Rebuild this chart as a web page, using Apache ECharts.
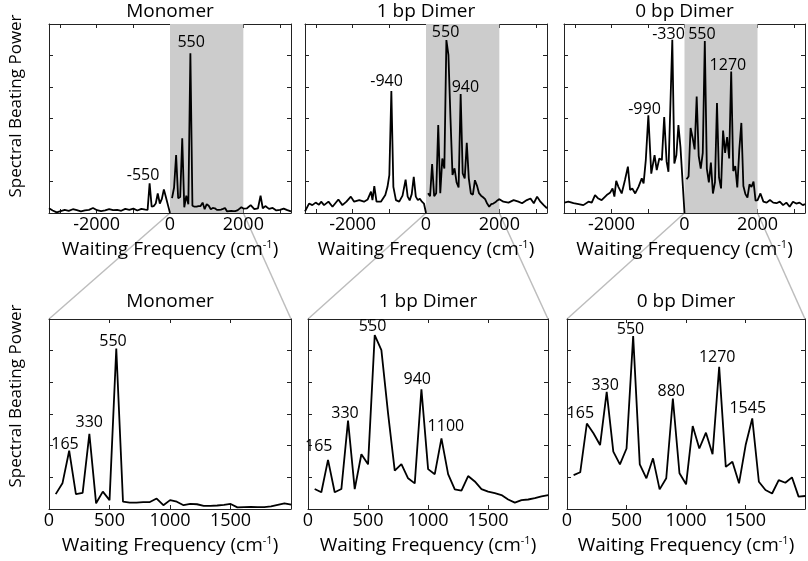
<!DOCTYPE html>
<html><head><meta charset="utf-8">
<script src="https://cdn.jsdelivr.net/npm/echarts@6/dist/echarts.min.js"></script>
<style>html,body{margin:0;padding:0;background:#fff}#c{width:808px;height:561px}</style>
</head><body><div id="c"></div>
<script>
// ---------- data ----------
const panelTitles = ['Monomer', '1 bp Dimer', '0 bp Dimer'];
const topTickLabels = [-2000, 0, 2000];
const botTickLabels = [0, 500, 1000, 1500];

// positive waiting frequencies (cm-1), shared by all zoomed spectra
const freqs = [55.6,111.2,166.8,222.4,278,333.6,389.2,444.8,500.4,556,611.6,667.2,722.8,778.4,834,889.6,945.2,1000.8,1056.4,1112,1167.6,1223.2,1278.8,1334.4,1390,1445.6,1501.2,1556.8,1612.4,1668,1723.6,1779.2,1834.8,1890.4,1946,2001.6];

const monoPos = [0.47,0.81,1.84,0.47,0.51,2.37,0.18,0.55,0.28,5.07,0.23,0.2,0.2,0.22,0.22,0.33,0.12,0.28,0.23,0.12,0.16,0.15,0.1,0.1,0.11,0.13,0.16,0.05,0.06,0.07,0.06,0.06,0.08,0.13,0.18,0.14];
const dimer1Pos = [0.63,0.53,1.55,0.53,0.63,2.79,0.63,1.73,1.41,5.49,5.02,3.02,1.21,1.42,0.97,0.81,3.78,1.26,1.10,2.23,1.10,0.62,0.58,1.04,0.87,0.63,0.55,0.5,0.44,0.3,0.2,0.28,0.3,0.34,0.4,0.44];
const dimer0Pos = [1.07,1.16,2.70,2.39,2.02,3.70,1.81,1.41,1.91,5.46,1.41,0.97,1.60,0.62,0.97,3.49,1.13,0.78,2.62,1.91,2.41,1.73,4.49,1.33,1.49,0.81,2.02,2.86,0.86,0.6,0.49,0.91,0.83,1.0,0.39,0.41];

// negative-frequency side of the full spectra
const monoNegX = [-3300,-3200,-3090,-2980,-2870,-2760,-2650,-2540,-2430,-2320,-2210,-2100,-1990,-1880,-1770,-1660,-1550,-1440,-1330,-1220,-1110,-1000,-890,-780,-670,-611,-556,-500,-445,-389,-334,-278,-222,-167,-111,-56,0];
const monoNegY = [0.15,0.08,0.02,0.06,0.1,0.07,0.12,0.09,0.05,0.08,0.1,0.16,0.09,0.06,0.08,0.12,0.09,0.1,0.07,0.13,0.1,0.14,0.08,0.13,0.11,0.1,0.94,0.2,0.22,0.3,0.62,0.3,0.45,0.75,0.5,0.25,0.0];
const dimer1NegX = [-3300,-3190,-3100,-3010,-2920,-2860,-2780,-2660,-2550,-2390,-2280,-2170,-2050,-1960,-1820,-1690,-1590,-1500,-1460,-1410,-1350,-1230,-1110,-1050,-1000,-945,-890,-820,-730,-640,-556,-500,-445,-389,-334,-278,-222,-167,-111,-56,0];
const dimer1NegY = [0.05,0.3,0.25,0.33,0.26,0.36,0.25,0.36,0.2,0.43,0.25,0.36,0.52,0.36,0.41,0.36,0.43,0.68,0.41,0.85,0.36,0.36,0.57,0.83,1.2,3.87,0.83,0.41,0.36,0.55,1.06,0.52,0.4,0.6,1.15,0.52,0.41,0.45,0.36,0.3,0.0];
const dimer0NegX = [-3290,-3180,-3040,-2900,-2770,-2630,-2540,-2450,-2360,-2270,-2130,-2040,-1970,-1920,-1870,-1810,-1720,-1630,-1550,-1490,-1430,-1350,-1260,-1170,-1120,-1060,-990,-910,-820,-760,-690,-620,-556,-490,-440,-334,-278,-222,-167,-111,0];
const dimer0NegY = [0.33,0.36,0.31,0.28,0.25,0.36,0.33,0.57,0.46,0.41,0.57,0.64,0.78,0.52,1.02,0.83,0.62,1.05,1.47,0.73,0.78,0.62,0.83,1.1,0.94,1.68,3.1,1.25,1.84,1.36,1.73,1.68,3.05,1.63,1.31,5.5,1.57,1.84,2.79,2.1,0.0];

// beyond 2000 cm-1 on the full spectra
const monoExtX = [2100,2200,2300,2400,2470,2530,2600,2700,2800,2900,3000,3100,3200,3300];
const monoExtY = [0.15,0.25,0.12,0.15,0.55,0.15,0.22,0.13,0.16,0.08,0.1,0.14,0.09,0.05];
const dimer1ExtX = [2110,2250,2390,2520,2620,2750,2850,2940,3030,3120,3210,3300];
const dimer1ExtY = [0.36,0.33,0.41,0.36,0.31,0.41,0.46,0.31,0.52,0.36,0.25,0.15];
const dimer0ExtX = [2080,2160,2250,2340,2430,2520,2610,2700,2790,2880,2970,3060,3150,3240,3300];
const dimer0ExtY = [0.62,0.36,0.33,0.41,0.33,0.31,0.36,0.25,0.33,0.2,0.36,0.3,0.33,0.25,0.28];

// peak annotations: [text, x, y] (data coordinates of label centre)
const annTop = [
  [['550', 577, 5.42], ['-550', -733, 1.2]],
  [['-940', -1074, 4.18], ['550', 534, 5.74], ['940', 1074, 4.0]],
  [['-330', -438, 5.66], ['550', 476, 5.66], ['1270', 1189, 4.68], ['-990', -1096, 3.28]]
];
const annBot = [
  [['165', 132, 2.05], ['330', 333, 2.72], ['550', 529, 5.3]],
  [['165', 90, 1.97], ['330', 308, 3.02], ['550', 538, 5.75], ['940', 910, 4.09], ['1100', 1149, 2.6]],
  [['165', 113, 3.02], ['330', 321, 3.91], ['550', 534, 5.67], ['880', 876, 3.70], ['1270', 1262, 4.79], ['1545', 1519, 3.18]]
];

// ---------- build ----------
const zip = (xs, ys) => xs.map((x, i) => [x, ys[i]]);
const posSets = [monoPos, dimer1Pos, dimer0Pos];
const negSets = [[monoNegX, monoNegY], [dimer1NegX, dimer1NegY], [dimer0NegX, dimer0NegY]];
const extSets = [[monoExtX, monoExtY], [dimer1ExtX, dimer1ExtY], [dimer0ExtX, dimer0ExtY]];

const FONT = 'Open Sans';
const INK = '#000';
const FRAME = '#222';
const grids = [
  {left: 49, top: 24, width: 242, height: 189},
  {left: 305, top: 24, width: 242, height: 189},
  {left: 564, top: 24, width: 241, height: 189},
  {left: 49, top: 319, width: 242, height: 190},
  {left: 308, top: 319, width: 240, height: 190},
  {left: 567, top: 319, width: 238, height: 190}
];

const lineAx = {show: true, onZero: false, lineStyle: {color: FRAME, width: 1}};
const tickAx = {show: true, inside: true, length: 4, lineStyle: {color: FRAME, width: 1}};
const xName = 'Waiting Frequency (cm{s|-1})';
const nameStyle = {fontSize: 19, fontFamily: FONT, color: INK, lineHeight: 22,
  rich: {s: {fontSize: 11, fontFamily: FONT, color: INK, verticalAlign: 'top', lineHeight: 22}}};

const xAxis = [], yAxis = [], series = [];
grids.forEach((g, i) => {
  const isTop = i < 3;
  const base = isTop ? {min: -3300, max: 3300, splitNumber: 6} : {min: 0, max: 2000, interval: 500};
  const labels = isTop ? topTickLabels : botTickLabels;
  xAxis.push(Object.assign({
    type: 'value', gridIndex: i, position: 'bottom',
    axisLine: lineAx, axisTick: tickAx, splitLine: {show: false},
    axisLabel: {show: true, margin: 3, fontSize: 18, fontFamily: FONT, color: INK,
      formatter: v => labels.includes(v) ? String(v) : ''},
    name: xName, nameLocation: 'middle', nameGap: 26, nameTextStyle: nameStyle
  }, base));
  xAxis.push(Object.assign({
    type: 'value', gridIndex: i, position: 'top',
    axisLine: lineAx, axisTick: tickAx, splitLine: {show: false}, axisLabel: {show: false}
  }, base));
  ['left', 'right'].forEach(pos => yAxis.push({
    type: 'value', gridIndex: i, position: pos, min: 0, max: 6, interval: 1,
    axisLine: lineAx, axisTick: tickAx, splitLine: {show: false}, axisLabel: {show: false}
  }));
});

const lineStyle = {color: INK, width: 1.8};
for (let p = 0; p < 3; p++) {
  // full spectrum (top row)
  series.push({
    type: 'line', xAxisIndex: 2 * p, yAxisIndex: 2 * p, z: 1,
    data: zip(negSets[p][0], negSets[p][1]), showSymbol: false, lineStyle, animation: false,
    markArea: {silent: true, itemStyle: {color: '#cccccc'}, data: [[{xAxis: 0}, {xAxis: 2000}]]}
  });
  series.push({
    type: 'line', xAxisIndex: 2 * p, yAxisIndex: 2 * p, z: 3,
    data: zip(freqs, posSets[p]).concat(zip(extSets[p][0], extSets[p][1])),
    showSymbol: false, lineStyle, animation: false
  });
  // zoomed spectrum (bottom row)
  series.push({
    type: 'line', xAxisIndex: 2 * (p + 3), yAxisIndex: 2 * (p + 3), z: 3,
    data: zip(freqs, posSets[p]), showSymbol: false, lineStyle, animation: false
  });
  // annotations
  [[annTop[p], p], [annBot[p], p + 3]].forEach(([ann, gi]) => series.push({
    type: 'scatter', xAxisIndex: 2 * gi, yAxisIndex: 2 * gi, z: 5, silent: true,
    symbolSize: 2, itemStyle: {color: 'rgba(0,0,0,0)'}, animation: false, clip: false,
    data: ann.map(a => ({name: a[0], value: [a[1], a[2]]})),
    label: {show: true, position: 'inside', formatter: '{b}', fontSize: 16, fontFamily: FONT,
      color: '#000', opacity: 1, textBorderWidth: 0}
  }));
}

const chart = echarts.init(document.getElementById('c'));
chart.setOption({animation: false, grid: grids, xAxis, yAxis, series});

// ---------- decorations (titles, y names, zoom connectors) ----------
const graphic = [];
grids.forEach((g, i) => {
  graphic.push({type: 'text', x: g.left + g.width / 2, y: i < 3 ? 12 : 302, z: 10,
    style: {text: panelTitles[i % 3], fill: INK, font: '19px "Open Sans"', textAlign: 'center', textVerticalAlign: 'middle'}});
});
[106, 396].forEach(cy => graphic.push({type: 'text', x: 16, y: cy, rotation: Math.PI / 2, z: 10,
  style: {text: 'Spectral Beating Power', fill: INK, font: '17px "Open Sans"', textAlign: 'center', textVerticalAlign: 'middle'}}));
for (let p = 0; p < 3; p++) {
  const tf = {xAxisIndex: 2 * p, yAxisIndex: 2 * p};
  const bf = {xAxisIndex: 2 * (p + 3), yAxisIndex: 2 * (p + 3)};
  const a1 = chart.convertToPixel(tf, [0, 0]), a2 = chart.convertToPixel(tf, [2000, 0]);
  const b1 = chart.convertToPixel(bf, [0, 6]), b2 = chart.convertToPixel(bf, [2000, 6]);
  [[a1, b1], [a2, b2]].forEach(([a, b]) => graphic.push({type: 'line', z: -1, silent: true,
    shape: {x1: a[0], y1: a[1], x2: b[0], y2: b[1]}, style: {stroke: '#bdbdbd', lineWidth: 1.5}}));
}
chart.setOption({graphic});
</script></body></html>
